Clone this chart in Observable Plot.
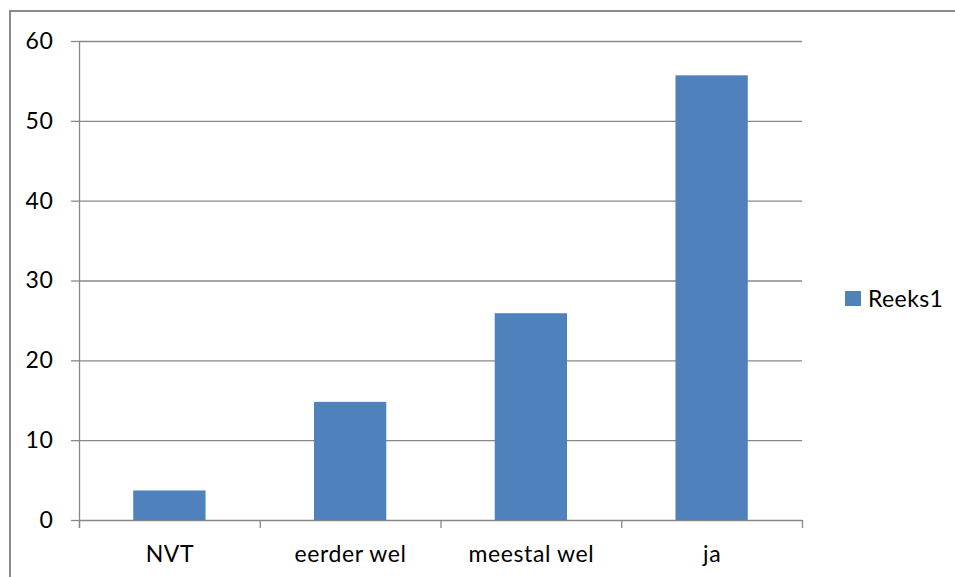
<!DOCTYPE html>
<html>
<head>
<meta charset="utf-8">
<script src="https://cdn.jsdelivr.net/npm/d3@7"></script>
<script src="https://cdn.jsdelivr.net/npm/@observablehq/plot@0.6"></script>
<style>
  html, body { margin: 0; padding: 0; background: #fff; }
  #wrap { position: relative; width: 955px; height: 577px; overflow: hidden; font-family: Lato, "Open Sans", sans-serif; }
  #frame { position: absolute; left: 9px; top: 10px; width: 1000px; height: 1000px; border-left: 2px solid #8a8a8a; border-top: 2px solid #8a8a8a; }
  #chart { position: absolute; left: 0; top: 0; }
  #legend { position: absolute; left: 845px; top: 284px; display: flex; align-items: center; font-size: 23px; letter-spacing: 0.4px; color: #000; }
  #legend .sw { width: 16px; height: 15px; background: #4f81bd; margin-right: 7px; }
</style>
</head>
<body>
<div id="wrap">
  <div id="frame"></div>
  <div id="chart"></div>
  <div id="legend"><span class="sw"></span><span id="legtext"></span></div>
</div>
<script>
const categories = ["NVT", "eerder wel", "meestal wel", "ja"];
const values = [3.7, 14.8, 25.9, 55.7];
const seriesName = "Reeks1";
const yTicks = [0, 10, 20, 30, 40, 50, 60];

const data = categories.map((c, i) => ({ cat: c, value: values[i], i }));
const boundaries = d3.range(categories.length + 1);
const gridColor = "#888888";

const chart = Plot.plot({
  width: 955,
  height: 577,
  marginLeft: 79,
  marginRight: 153,
  marginTop: 41,
  marginBottom: 57,
  style: { fontFamily: "Lato, 'Open Sans', sans-serif", fontSize: "23px", color: "#000", background: "transparent", letterSpacing: "0.6px" },
  x: { type: "linear", domain: [0, categories.length], axis: null },
  y: { domain: [0, 60], axis: null },
  marks: [
    Plot.ruleY(yTicks, { x1: 0, x2: categories.length, stroke: gridColor, strokeWidth: 1.3 }),
    Plot.rectY(data, { x1: d => d.i + 0.3, x2: d => d.i + 0.7, y1: 0, y2: "value", fill: "#4f81bd" }),
    Plot.ruleX([0], { y1: -1, y2: 60, stroke: gridColor, strokeWidth: 1.3 }),
    Plot.ruleX(boundaries, { y1: -1, y2: 0, stroke: gridColor, strokeWidth: 1.3 }),
    Plot.axisY(yTicks, { anchor: "left", label: null, tickSize: 8, tickPadding: 18, stroke: gridColor, strokeWidth: 1.3, strokeOpacity: 1, fontSize: 23, fill: "#000" }),
    Plot.text(data, { x: d => d.i + 0.5, y: 0, dy: 34, text: "cat", lineAnchor: "middle", textAnchor: "middle", fontSize: 23, fill: "#000" })
  ]
});
document.getElementById("chart").appendChild(chart);
document.getElementById("legtext").textContent = seriesName;
</script>
</body>
</html>
